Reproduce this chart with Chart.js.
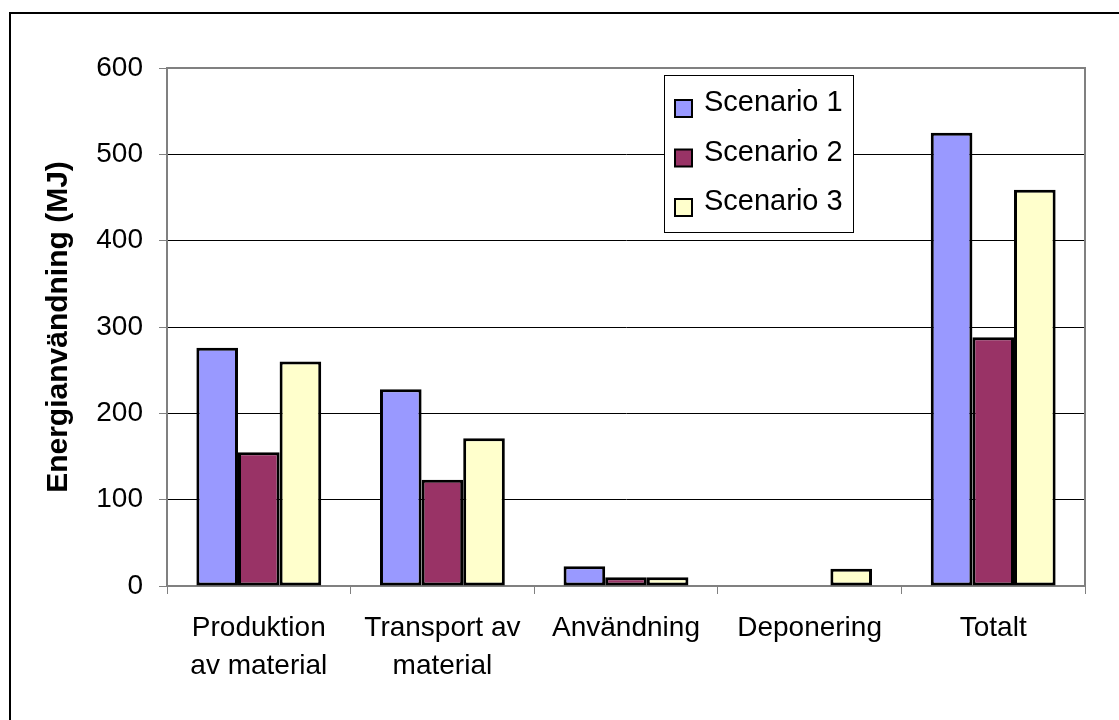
<!DOCTYPE html>
<html>
<head>
<meta charset="utf-8">
<script src="https://cdn.jsdelivr.net/npm/chart.js@4/dist/chart.umd.min.js"></script>
<style>
  html, body { margin: 0; padding: 0; background: #fff; }
  canvas { display: block; }
</style>
</head>
<body>
<canvas id="c" width="1119" height="720"></canvas>
<script>
// Energy use per life-cycle stage (MJ) for three scenarios
const categories = [['Produktion', 'av material'], ['Transport av', 'material'], 'Användning', 'Deponering', 'Totalt'];
const seriesNames = ['Scenario 1', 'Scenario 2', 'Scenario 3'];
const scenario1 = [276, 228, 23, 0, 525];
const scenario2 = [155, 123, 10, 0, 288];
const scenario3 = [260, 171, 10, 20, 459];
const yTicks = [0, 100, 200, 300, 400, 500, 600];
const yTitle = 'Energianvändning (MJ)';

const FONT = '"Liberation Sans", Arial, Helvetica, sans-serif';
const fills = ['#9999FF', '#993366', '#FFFFCC'];
const AXIS_GRAY = '#808080';

// Gray frame on the top and right of the plot, plus the outer chart border
const framePlugin = {
  id: 'frame',
  afterDatasetsDraw(chart) {
    const { ctx, chartArea: a } = chart;
    ctx.save();
    ctx.strokeStyle = AXIS_GRAY;
    ctx.lineWidth = 2;
    ctx.beginPath();
    ctx.moveTo(a.left, a.top);
    ctx.lineTo(a.right, a.top);
    ctx.lineTo(a.right, a.bottom);
    ctx.stroke();
    ctx.restore();
  },
  afterDraw(chart) {
    const { ctx, width, height } = chart;
    ctx.save();
    ctx.strokeStyle = '#000';
    ctx.lineWidth = 2;
    ctx.beginPath();
    ctx.moveTo(10, height);
    ctx.lineTo(10, 13);
    ctx.lineTo(width, 13);
    ctx.stroke();
    ctx.restore();
  }
};

// Boxed legend inside the plot, upper right
const boxLegend = {
  id: 'boxLegend',
  afterDraw(chart) {
    const { ctx } = chart;
    const box = { x: 664.5, y: 75.5, w: 189, h: 157 };
    ctx.save();
    ctx.fillStyle = '#fff';
    ctx.fillRect(box.x, box.y, box.w, box.h);
    ctx.strokeStyle = '#000';
    ctx.lineWidth = 1;
    ctx.strokeRect(box.x, box.y, box.w, box.h);
    ctx.font = '29px ' + FONT;
    ctx.textAlign = 'left';
    ctx.textBaseline = 'alphabetic';
    chart.data.datasets.forEach((ds, i) => {
      const cy = 108 + i * 49.5;
      ctx.fillStyle = ds.backgroundColor;
      ctx.fillRect(675, cy - 8, 17, 17);
      ctx.strokeStyle = '#000';
      ctx.lineWidth = 2;
      ctx.strokeRect(675, cy - 8, 17, 17);
      ctx.fillStyle = '#000';
      ctx.fillText(ds.label, 704, cy + 3);
    });
    ctx.restore();
  }
};

const seriesValues = [scenario1, scenario2, scenario3];

new Chart(document.getElementById('c'), {
  type: 'bar',
  data: {
    labels: categories,
    datasets: seriesNames.map((name, i) => ({
      label: name,
      data: seriesValues[i],
      backgroundColor: fills[i],
      borderColor: '#000',
      borderWidth: 3,
      borderSkipped: false,
      barPercentage: 1,
      categoryPercentage: 0.68
    }))
  },
  options: {
    responsive: false,
    animation: false,
    layout: { padding: { left: 0, top: 68, right: 34, bottom: 0 } },
    plugins: {
      legend: { display: false },
      tooltip: { enabled: false }
    },
    scales: {
      x: {
        afterFit(scale) { scale.height = 134; },
        grid: {
          display: true,
          drawOnChartArea: false,
          drawTicks: true,
          tickLength: 8,
          tickColor: AXIS_GRAY,
          offset: true
        },
        border: { display: true, color: AXIS_GRAY, width: 2 },
        ticks: {
          color: '#000',
          font: { family: FONT, size: 28, lineHeight: 1.37 },
          padding: 15,
          maxRotation: 0,
          autoSkip: false
        }
      },
      y: {
        min: 0,
        max: 600,
        afterFit(scale) { scale.width = 167; },
        afterBuildTicks(scale) { scale.ticks = yTicks.map(v => ({ value: v })); },
        grid: {
          color: ctx => (ctx.tick && (ctx.tick.value === 0 || ctx.tick.value === 600)) ? 'rgba(0,0,0,0)' : '#000',
          lineWidth: 1,
          tickLength: 8,
          tickColor: AXIS_GRAY
        },
        border: { display: true, color: AXIS_GRAY, width: 2 },
        ticks: {
          color: '#000',
          font: { family: FONT, size: 28 },
          padding: 16
        },
        title: {
          display: true,
          text: yTitle,
          color: '#000',
          font: { family: FONT, size: 30, weight: 'bold', lineHeight: 1.2 },
          padding: { top: 41, bottom: 0 }
        }
      }
    }
  },
  plugins: [framePlugin, boxLegend]
});
</script>
</body>
</html>
